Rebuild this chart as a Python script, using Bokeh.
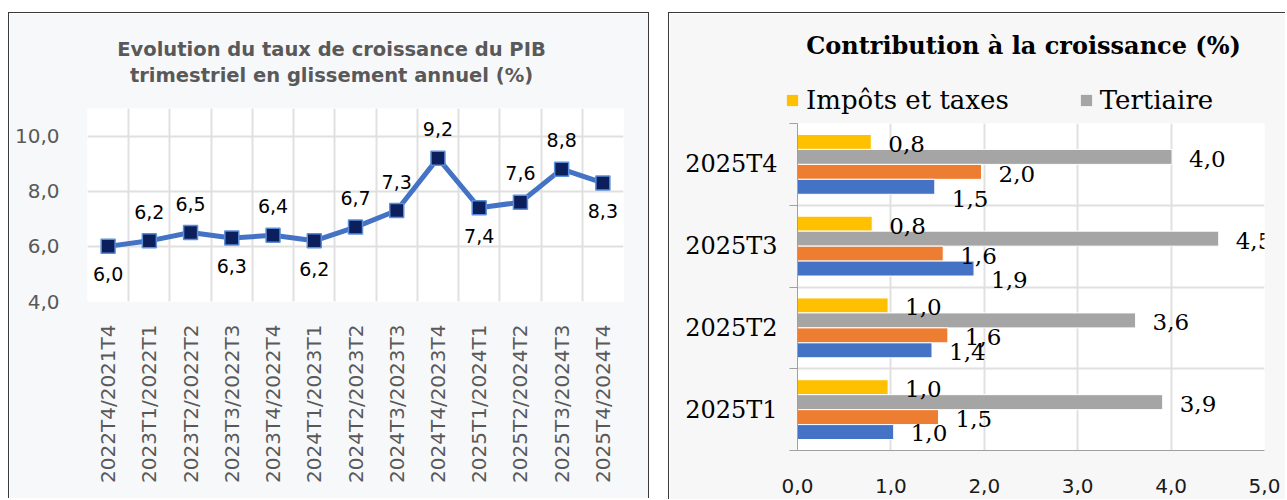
from math import pi
from bokeh.plotting import figure
from bokeh.models import (ColumnDataSource, FixedTicker, Label, Legend, LegendItem,
                          Range1d, CustomJSTickFormatter)
from bokeh.transform import dodge
from bokeh.core.properties import value
from bokeh.embed import file_html
from bokeh.resources import INLINE

# ---------------- data: left chart ----------------
periods = ["2022T4/2021T4", "2023T1/2022T1", "2023T2/2022T2", "2023T3/2022T3",
           "2023T4/2022T4", "2024T1/2023T1", "2024T2/2023T2", "2024T3/2023T3",
           "2024T4/2023T4", "2025T1/2024T1", "2025T2/2024T2", "2025T3/2024T3",
           "2025T4/2024T4"]
growth = [6.0, 6.2, 6.5, 6.3, 6.4, 6.2, 6.7, 7.3, 9.2, 7.4, 7.6, 8.8, 8.3]
growth_ticks = [4, 6, 8, 10]
left_title = ["Evolution du taux de croissance du PIB",
              "trimestriel en glissement annuel (%)"]

# ---------------- data: right chart ----------------
quarters = ["2025T1", "2025T2", "2025T3", "2025T4"]
impots = [0.97, 0.97, 0.80, 0.79]
tertiaire = [3.91, 3.62, 4.51, 4.01]
secondaire = [1.51, 1.61, 1.56, 1.97]
primaire = [1.03, 1.44, 1.89, 1.47]
contrib_ticks = [0, 1, 2, 3, 4, 5]
right_title = "Contribution à la croissance (%)"
legend_labels = ["Impôts et taxes", "Tertiaire"]

# ---------------- styles ----------------
label_side = ["below", "above", "above", "below", "above", "below", "above",
              "above", "above", "below", "above", "above", "below"]
blue_label_dy = [1, 2, 11, 12]
YELLOW, GREY, ORANGE, BLUE = "#FFC000", "#A5A5A5", "#ED7D31", "#4472C4"


def fmt(v):
    return f"{v:.1f}".replace(".", ",")


comma_fmt = CustomJSTickFormatter(code="return tick.toFixed(1).replace('.', ',');")
GRID = "#e0e0e0"
BORDER = "1px solid #3a3a3a"


def overlay(width, height, left, top):
    """Transparent pixel-space figure used for header texts (titles, legend)."""
    o = figure(width=width, height=height, x_range=Range1d(0, width),
               y_range=Range1d(height, 0), output_backend="svg", toolbar_location=None,
               title=None, x_axis_type=None, y_axis_type=None, min_border_left=0,
               min_border_right=0, min_border_top=0, min_border_bottom=0)
    o.grid.visible = False
    o.background_fill_alpha = 0
    o.border_fill_alpha = 0
    o.outline_line_color = None
    o.styles = {"position": "absolute", "left": f"{left}px", "top": f"{top}px"}
    return o


# ---------------- left chart ----------------
p1 = figure(width=641, height=486, x_range=Range1d(0, len(periods)), y_range=Range1d(4, 11),
            output_backend="svg", toolbar_location=None, title=None,
            min_border_left=78, min_border_right=27, min_border_top=95, min_border_bottom=198)
p1.background_fill_color = "white"
p1.border_fill_color = "#f7f8fa"
p1.outline_line_color = None
p1.styles = {"position": "absolute", "left": "8px", "top": "12px",
             "border-top": BORDER, "border-left": BORDER, "border-right": BORDER}

x_pos = [i + 0.5 for i in range(len(periods))]
src1 = ColumnDataSource(dict(x=x_pos, y=growth, lab=[fmt(v) for v in growth],
                             dy=[-29 if s == "above" else 28 for s in label_side]))

p1.xaxis.ticker = FixedTicker(ticks=x_pos)
p1.xaxis.formatter = CustomJSTickFormatter(args=dict(labels=periods),
                                           code="return labels[Math.floor(tick)];")
p1.xaxis.major_label_orientation = pi / 2
p1.yaxis.ticker = FixedTicker(ticks=growth_ticks)
p1.yaxis.formatter = comma_fmt
for ax in (p1.xaxis[0], p1.yaxis[0]):
    ax.axis_line_color = None
    ax.major_tick_line_color = None
    ax.minor_tick_line_color = None
    ax.major_label_text_font = "DejaVu Sans"
    ax.major_label_text_font_size = "20px"
    ax.major_label_text_color = "#595959"
p1.xaxis.major_label_standoff = 17
p1.yaxis.major_label_standoff = 22

p1.xgrid.ticker = FixedTicker(ticks=list(range(len(periods) + 1)))
p1.ygrid.ticker = FixedTicker(ticks=growth_ticks)
p1.grid.grid_line_color = GRID
p1.grid.grid_line_width = 2

p1.line("x", "y", source=src1, line_color=BLUE, line_width=5)
p1.scatter("x", "y", source=src1, marker="square", size=14, fill_color="#0a1f5c",
           line_color="#5b8fd9", line_width=1.5)
p1.text("x", "y", text="lab", source=src1, y_offset="dy", text_align="center",
        text_baseline="middle", text_font=value("DejaVu Sans"), text_font_size="19px",
        text_color="black")

# header of left chart
h1 = overlay(641, 95, 9, 13)
for txt, base in zip(left_title, (36, 62)):
    h1.add_layout(Label(x=322, y=base, text=txt, text_align="center",
                        text_baseline="alphabetic", text_font="DejaVu Sans",
                        text_font_style="bold", text_font_size="19.5px",
                        text_color="#595959"))

# ---------------- right chart ----------------
p2 = figure(width=617, height=487, x_range=Range1d(0, 5), y_range=Range1d(0, len(quarters)),
            output_backend="svg", toolbar_location=None, title=None,
            min_border_left=128, min_border_right=22, min_border_top=110, min_border_bottom=50)
p2.background_fill_color = "white"
p2.border_fill_color = "#f7f7f7"
p2.outline_line_color = None
p2.styles = {"position": "absolute", "left": "668px", "top": "12px",
             "border-top": BORDER, "border-left": BORDER}

cat_pos = [i + 0.5 for i in range(len(quarters))]
src2 = ColumnDataSource(dict(
    y=cat_pos,
    impots=impots, tertiaire=tertiaire, secondaire=secondaire, primaire=primaire,
    impots_lab=[fmt(v) for v in impots], tertiaire_lab=[fmt(v) for v in tertiaire],
    secondaire_lab=[fmt(v) for v in secondaire], primaire_lab=[fmt(v) for v in primaire],
    blue_dy=blue_label_dy,
))

slot = 0.183
series = [("impots", YELLOW, 1.5), ("tertiaire", GREY, 0.5),
          ("secondaire", ORANGE, -0.5), ("primaire", BLUE, -1.5)]
for name, color, off in series:
    p2.hbar(y=dodge("y", off * slot), left=0, right=name, height=slot,
            source=src2, fill_color=color, line_color="white", line_width=1)
for name, color, off in series:
    p2.text(x=name, y=dodge("y", off * slot), text=name + "_lab", source=src2,
            x_offset=17, y_offset=("blue_dy" if name == "primaire" else 2),
            text_align="left", text_baseline="middle", text_font=value("DejaVu Serif"),
            text_font_size="23px", text_color="black")

p2.xaxis.ticker = FixedTicker(ticks=contrib_ticks)
p2.xaxis.formatter = comma_fmt
p2.xaxis.major_tick_line_color = None
p2.xaxis.minor_tick_line_color = None
p2.xaxis.major_label_standoff = 22
p2.xaxis.major_label_text_font = "DejaVu Sans"
p2.xaxis.major_label_text_font_size = "20px"
p2.xaxis.major_label_text_color = "#1a1a1a"

p2.yaxis.ticker = FixedTicker(ticks=cat_pos, minor_ticks=list(range(len(quarters) + 1)))
p2.yaxis.formatter = CustomJSTickFormatter(args=dict(labels=quarters),
                                           code="return labels[Math.floor(tick)];")
p2.yaxis.major_tick_line_color = None
p2.yaxis.minor_tick_out = 8
p2.yaxis.minor_tick_in = 0
p2.yaxis.minor_tick_line_color = "#a0a0a0"
p2.yaxis.major_label_standoff = 12
p2.yaxis.major_label_text_font = "DejaVu Serif"
p2.yaxis.major_label_text_font_size = "24px"
p2.yaxis.major_label_text_color = "black"
for ax in (p2.xaxis[0], p2.yaxis[0]):
    ax.axis_line_color = "#a0a0a0"
    ax.axis_line_width = 1

p2.xgrid.ticker = FixedTicker(ticks=contrib_ticks[1:])
p2.ygrid.ticker = FixedTicker(ticks=list(range(1, len(quarters) + 1)))
p2.grid.grid_line_color = GRID
p2.grid.grid_line_width = 2

# ---------------- header of right chart (title + legend) ----------------
h2 = overlay(617, 110, 669, 13)
# zero-height bars on the same data feed the legend swatches
leg_r1 = h2.hbar(y="y", right="impots", height=0, source=src2, fill_color=YELLOW,
                 line_color=None)
leg_r2 = h2.hbar(y="y", right="tertiaire", height=0, source=src2, fill_color=GREY,
                 line_color=None)
legend = Legend(items=[LegendItem(label=legend_labels[0], renderers=[leg_r1]),
                       LegendItem(label=legend_labels[1], renderers=[leg_r2])],
                orientation="horizontal", location=(116, 8), glyph_width=14,
                glyph_height=14, label_standoff=7, spacing=70, padding=0, margin=0,
                border_line_color=None, background_fill_alpha=0,
                label_text_font="DejaVu Serif", label_text_font_size="26px",
                label_text_color="black")
h2.add_layout(legend, "center")
h2.add_layout(Label(x=354, y=32, text=right_title, text_align="center",
                    text_baseline="alphabetic", text_font="DejaVu Serif",
                    text_font_style="bold", text_font_size="24px", text_color="black"))

open("out.html", "w").write(file_html([p1, h1, p2, h2], INLINE))
